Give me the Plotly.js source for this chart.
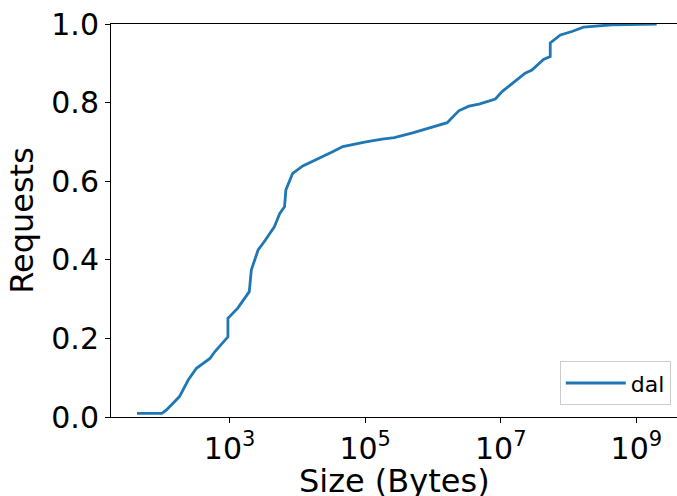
<!DOCTYPE html>
<html>
<head>
<meta charset="utf-8">
<script src="https://cdn.plot.ly/plotly-3.0.1.min.js"></script>
<style>html,body{margin:0;padding:0;background:#fff}#chart{width:677px;height:496px}</style>
</head>
<body>
<div id="chart"></div>
<script>
// Request size (bytes) and cumulative fraction of requests
const sizes = [43, 100, 117, 182, 245, 324, 513, 603, 944, 944, 1318, 1950, 2089, 2630, 3236,
  4571, 5495, 6457, 6761, 8511, 12023, 20893, 33113, 46774, 72444, 102329, 177828, 269153,
  501187, 870964, 1621810, 2398833, 3388442, 4786301, 8317638, 10471285, 16218101, 22908677,
  28840315, 42657952, 53703180, 53703180, 75857758, 112201845, 165958691, 436515832, 1995262315];
const cdf = [0.009, 0.009, 0.018, 0.052, 0.094, 0.124, 0.149, 0.166, 0.204, 0.251, 0.277, 0.319,
  0.374, 0.425, 0.446, 0.484, 0.518, 0.535, 0.578, 0.620, 0.639, 0.658, 0.675, 0.688, 0.695,
  0.700, 0.707, 0.711, 0.723, 0.736, 0.749, 0.779, 0.791, 0.796, 0.809, 0.828, 0.853, 0.875,
  0.883, 0.910, 0.917, 0.952, 0.972, 0.981, 0.992, 0.998, 1.000];
const seriesName = "dal";
const xTitle = "Size (Bytes)";
const yTitle = "Requests";
const xTickVals = [1e3, 1e5, 1e7, 1e9];
const xTickText = ["10<sup>3</sup>", "10<sup>5</sup>", "10<sup>7</sup>", "10<sup>9</sup>"];
const yTickVals = [0, 0.2, 0.4, 0.6, 0.8, 1.0];
const yTickText = ["0.0", "0.2", "0.4", "0.6", "0.8", "1.0"];

const font = "DejaVu Sans, sans-serif";
Plotly.newPlot("chart", [{
  x: sizes, y: cdf, type: "scatter", mode: "lines", name: seriesName,
  line: {color: "#1f77b4", width: 2.8}
}], {
  width: 677, height: 496,
  margin: {l: 111, r: 0, t: 24, b: 79, pad: 0},
  paper_bgcolor: "#fff", plot_bgcolor: "#fff",
  font: {family: font, color: "#000"},
  showlegend: true,
  legend: {x: 0.989, y: 0.03, xanchor: "right", yanchor: "bottom",
    bordercolor: "#cccccc", borderwidth: 1, bgcolor: "rgba(255,255,255,0.8)",
    itemwidth: 60,
    font: {size: 22, family: font}},
  annotations: [{text: xTitle, xref: "paper", yref: "paper", x: 0.5, y: -0.163,
    xanchor: "center", yanchor: "middle", showarrow: false,
    font: {size: 32, family: font, color: "#000"}}],
  xaxis: {type: "log", range: [1.25, 9.6], showgrid: false, zeroline: false,
    showline: true, linecolor: "#000", linewidth: 1, mirror: true,
    ticks: "outside", ticklen: 5, tickwidth: 1, tickcolor: "#000",
    tickvals: xTickVals, ticktext: xTickText, tickfont: {size: 30, family: font}},
  yaxis: {range: [0, 1], showgrid: false, zeroline: false,
    showline: true, linecolor: "#000", linewidth: 1,
    ticks: "outside", ticklen: 5, tickwidth: 1, tickcolor: "#000",
    tickvals: yTickVals, ticktext: yTickText, tickfont: {size: 30, family: font},
    title: {text: yTitle, font: {size: 32, family: font}, standoff: 8}}
}, {displayModeBar: false, staticPlot: true});
</script>
</body>
</html>
